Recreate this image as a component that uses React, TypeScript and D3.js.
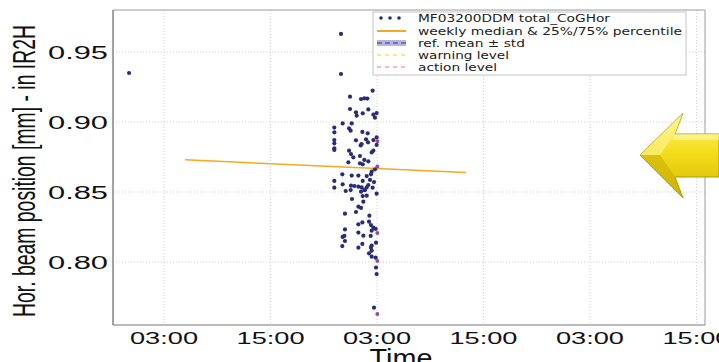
import React from 'react';
import * as d3 from 'd3';

// hours after 2016-05-09 03:00 UTC, and the CoG horizontal position [mm]
const scanHours = [
  23.51, 20.96, 22.20, 22.57, 22.91, 20.96, 23.02, 21.63, 22.39, 23.96,
  23.59, 21.71, 23.77, 20.13, 21.15, 19.19, 20.85, 22.35, 22.95, 19.19,
  21.03, 23.96, 19.19, 21.63, 22.76, 23.59, 22.99, 22.27, 22.16, 19.19,
  23.96, 19.19, 19.19, 20.85, 23.59, 23.40, 21.07, 22.08, 21.33, 22.57,
  23.02, 20.77, 22.08, 22.39, 23.77, 23.40, 20.09, 21.15, 21.90, 22.84,
  23.32, 19.19, 20.13, 22.39, 23.21, 23.66, 19.19, 21.07, 21.45, 21.90,
  22.27, 22.84, 23.02, 22.65, 23.51, 20.47, 21.03, 22.20, 22.57, 23.96,
  22.39, 22.84, 22.46, 21.18, 21.90, 22.20, 21.63, 20.39, 23.14, 22.35,
  21.90, 23.10, 23.32, 23.59, 23.85, 20.39, 23.40, 21.90, 20.32, 20.13,
  22.46, 23.29, 20.39, 23.89, 22.35, 23.40, 23.32, 20.09, 21.90, 23.40,
  23.10, 23.40, 23.85, 23.89, 23.96, 23.66, 19.94, 19.94, -3.94,
];
const scanValues = [
  0.9224, 0.9181, 0.9164, 0.9169, 0.9167, 0.9093, 0.9090, 0.9069, 0.9062, 0.9064,
  0.9052, 0.9045, 0.9031, 0.8990, 0.8990, 0.8960, 0.8955, 0.8929, 0.8919, 0.8926,
  0.8938, 0.8890, 0.8871, 0.8869, 0.8876, 0.8871, 0.8855, 0.8843, 0.8833, 0.8848,
  0.8836, 0.8812, 0.8800, 0.8795, 0.8795, 0.8783, 0.8771, 0.8757, 0.8748, 0.8729,
  0.8719, 0.8712, 0.8705, 0.8698, 0.8662, 0.8645, 0.8626, 0.8617, 0.8617, 0.8614,
  0.8626, 0.8579, 0.8555, 0.8579, 0.8586, 0.8571, 0.8531, 0.8545, 0.8543, 0.8538,
  0.8533, 0.8533, 0.8550, 0.8514, 0.8531, 0.8507, 0.8514, 0.8502, 0.8514, 0.8488,
  0.8471, 0.8474, 0.8431, 0.8450, 0.8395, 0.8386, 0.8357, 0.8345, 0.8331, 0.8283,
  0.8269, 0.8288, 0.8264, 0.8245, 0.8236, 0.8233, 0.8224, 0.8210, 0.8186, 0.8179,
  0.8188, 0.8186, 0.8150, 0.8138, 0.8129, 0.8117, 0.8102, 0.8114, 0.8102, 0.8081,
  0.8062, 0.8038, 0.8031, 0.7960, 0.7914, 0.7674, 0.9629, 0.9343, 0.9350,
];
// points plotted in the second (magenta) colour at the 03:00 boundary
const edgeHours = [24.04, 24.04, 24.04, 24.04, 24.04];
const edgeValues = [0.8862, 0.8683, 0.8207, 0.8007, 0.7629];

const medianHours = [2.37, 34.03];
const medianValues = [0.873, 0.864];

const yTicks = [0.80, 0.85, 0.90, 0.95];
const xTickHours = [0, 12, 24, 36, 48, 60];
const legendLabels = [
  'MF03200DDM total_CoGHor',
  'weekly median & 25%/75% percentile',
  'ref. mean \u00b1 std',
  'warning level',
  'action level',
];
const legendWidths = [192, 264, 107, 91, 79];

const base = Date.UTC(2016, 4, 9, 3, 0);
const toDate = (h: number) => new Date(base + h * 3600 * 1000);

const W = 719;
const H = 362;
const plot = { left: 113, right: 705, top: 10, bottom: 325 };

export default function App() {
  const x = d3.scaleUtc()
    .domain([toDate(-5.75), toDate(60.96)])
    .range([plot.left, plot.right]);
  const y = d3.scaleLinear()
    .domain([0.755, 0.98])
    .range([plot.bottom, plot.top]);
  const fmt = d3.utcFormat('%H:%M');

  const medianLine = d3.line<number>()
    .x((_, i) => x(toDate(medianHours[i])))
    .y(d => y(d));

  const legX = 373;
  const legY = 12;
  const rowY = [18, 31, 43, 55, 67];

  return (
    <svg width={W} height={H} style={{ position: 'absolute', left: 0, top: 0, background: '#fff' }}
      fontFamily="'Liberation Sans', Arial, sans-serif">
      <defs>
        <linearGradient id="arrowFill" x1="0" y1="0" x2="0" y2="1">
          <stop offset="0%" stopColor="#fff27a" />
          <stop offset="45%" stopColor="#f3de1c" />
          <stop offset="100%" stopColor="#d4b900" />
        </linearGradient>
      </defs>

      {/* grid */}
      <g stroke="#cfcfcf" strokeWidth={1} strokeDasharray="1,2">
        {xTickHours.map(h => (
          <line key={'gx' + h} x1={x(toDate(h))} x2={x(toDate(h))} y1={plot.top} y2={plot.bottom} />
        ))}
        {yTicks.map(t => (
          <line key={'gy' + t} x1={plot.left} x2={plot.right} y1={y(t)} y2={y(t)} />
        ))}
      </g>

      {/* frame */}
      <line x1={plot.left} x2={plot.right} y1={plot.top} y2={plot.top} stroke="#9a9a9a" />
      <line x1={plot.right} x2={plot.right} y1={plot.top} y2={plot.bottom} stroke="#9a9a9a" />
      <line x1={plot.left} x2={plot.left} y1={plot.top} y2={plot.bottom} stroke="#666" strokeWidth={1.2} />
      <line x1={plot.left} x2={plot.right} y1={plot.bottom} y2={plot.bottom} stroke="#777" strokeWidth={1.2} />

      {/* median line */}
      <path d={medianLine(medianValues) || ''} fill="none" stroke="#f7a823" strokeWidth={1.5} />

      {/* scatter */}
      <g fill="#2a2c78">
        {scanValues.map((v, i) => (
          <circle key={'p' + i} cx={x(toDate(scanHours[i]))} cy={y(v)} r={2.1} />
        ))}
      </g>
      <g fill="#9a4c92">
        {edgeValues.map((v, i) => (
          <circle key={'e' + i} cx={x(toDate(edgeHours[i]))} cy={y(v)} r={2} />
        ))}
      </g>

      {/* y tick labels */}
      <g fontSize={18} fill="#111" textAnchor="end">
        {yTicks.map(t => (
          <text key={'yt' + t} x={108} y={y(t) + 6.5} textLength={60} lengthAdjust="spacingAndGlyphs">
            {t.toFixed(2)}
          </text>
        ))}
      </g>

      {/* x tick labels */}
      <g fontSize={17} fill="#111" textAnchor="middle">
        {xTickHours.map(h => (
          <text key={'xt' + h} x={x(toDate(h))} y={344} textLength={68} lengthAdjust="spacingAndGlyphs">
            {fmt(toDate(h))}
          </text>
        ))}
      </g>

      <text x={401} y={367} fontSize={25} textAnchor="middle" fill="#111" textLength={63}
        lengthAdjust="spacingAndGlyphs">Time</text>

      <text transform="translate(35,171) scale(1.5,1) rotate(-90)" fontSize={20.5} textAnchor="middle"
        fill="#111" textLength={292} lengthAdjust="spacingAndGlyphs">
        Hor. beam position [mm] - in IR2H
      </text>

      {/* legend */}
      <rect x={legX} y={legY} width={313} height={63} fill="#fff" fillOpacity={0.9} stroke="#c4c4c4" />
      <g fill="#2a2c78">
        {[381, 390, 399].map(cx => <circle key={'ld' + cx} cx={cx} cy={rowY[0]} r={1.8} />)}
      </g>
      <line x1={377} x2={406} y1={rowY[1]} y2={rowY[1]} stroke="#f7a823" strokeWidth={2} />
      <rect x={377} y={rowY[2] - 3} width={29} height={6} fill="#b4b4e0" />
      <line x1={377} x2={406} y1={rowY[2]} y2={rowY[2]} stroke="#5a5ab0" strokeWidth={1.5} strokeDasharray="5,3" />
      <line x1={377} x2={406} y1={rowY[3]} y2={rowY[3]} stroke="#ffd21a" strokeWidth={1.2} strokeDasharray="4,4" />
      <line x1={377} x2={406} y1={rowY[4]} y2={rowY[4]} stroke="#ff7070" strokeWidth={1.2} strokeDasharray="4,4" />
      <g fontSize={10.5} fill="#222" fontFamily="'DejaVu Sans', sans-serif">
        {legendLabels.map((l, i) => (
          <text key={'ll' + i} x={418} y={rowY[i] + 3.7} textLength={legendWidths[i]} lengthAdjust="spacingAndGlyphs">
            {l}
          </text>
        ))}
      </g>

      {/* yellow pointer arrow */}
      <g>
        <polygon points="640,155 683,113 675,134 719,134 719,177 675,177 683,198"
          fill="url(#arrowFill)" stroke="#b39b00" strokeWidth={1} />
        <polygon points="640,155 683,113 675,134 660,155" fill="#fff6a0" opacity={0.55} />
        <polygon points="640,155 660,155 675,177 683,198" fill="#c8ad00" opacity={0.55} />
        <polygon points="675,134 719,134 719,140 672,140" fill="#fff8b0" opacity={0.6} />
      </g>
    </svg>
  );
}
